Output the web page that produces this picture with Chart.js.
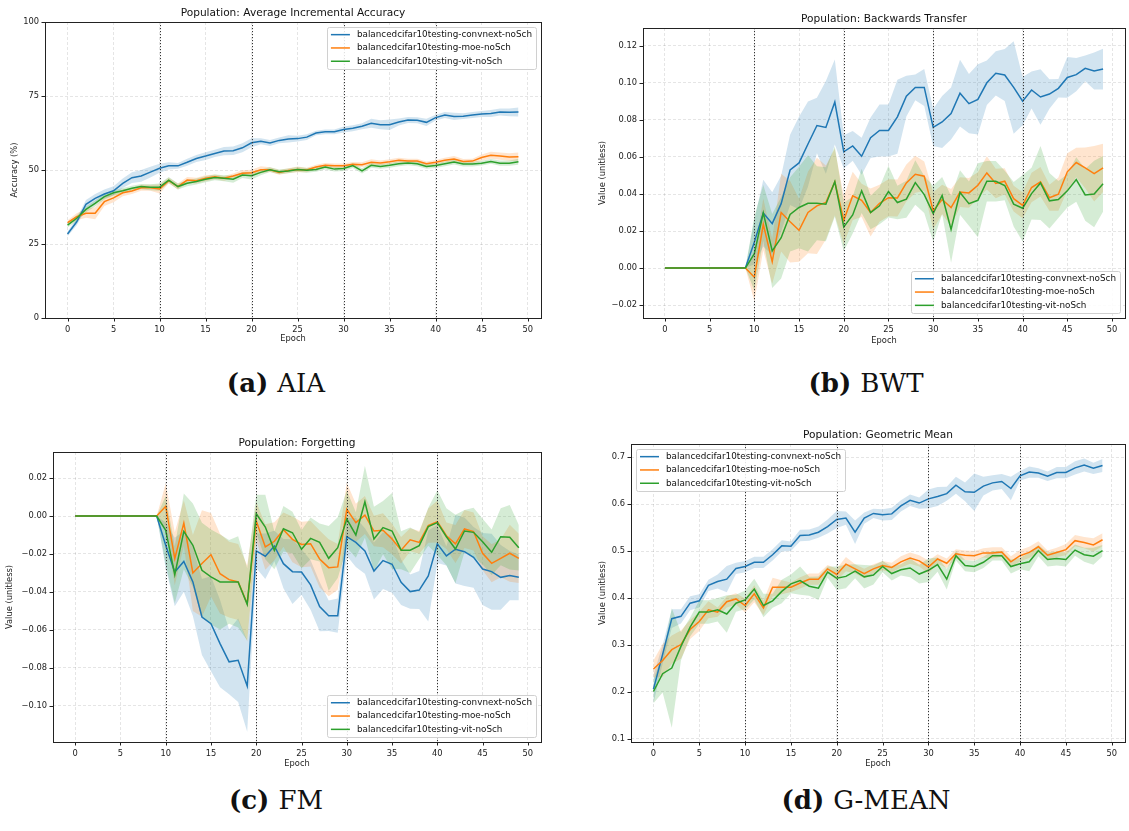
<!DOCTYPE html>
<html>
<head>
<meta charset="utf-8">
<script src="https://cdn.jsdelivr.net/npm/chart.js@4.4.1/dist/chart.umd.min.js"></script>
<style>
  body { margin: 0; background: #fff; width: 1129px; height: 831px; position: relative; overflow: hidden; }
  .panel { position: absolute; }
  .cap { position: absolute; width: 400px; text-align: center; font-family: "DejaVu Serif", serif; font-size: 26px; line-height: 32px; color: #111; }
  .cap b { margin-right: 9px; }
</style>
</head>
<body>
<div class="panel" style="left:0;top:0"><canvas id="aiaChart" width="565" height="360"></canvas></div>
<div class="panel" style="left:565px;top:0"><canvas id="bwtChart" width="564" height="360"></canvas></div>
<div class="panel" style="left:0;top:415px"><canvas id="fmChart" width="565" height="360"></canvas></div>
<div class="panel" style="left:565px;top:415px"><canvas id="gmChart" width="564" height="360"></canvas></div>
<div class="cap" style="left:76px;top:367px"><b>(a)</b>AIA</div>
<div class="cap" style="left:666px;top:367px"><b>(b)</b>BWT</div>
<div class="cap" style="left:76px;top:784px"><b>(c)</b>FM</div>
<div class="cap" style="left:666px;top:784px"><b>(d)</b>G-MEAN</div>
<script>
const seriesNames = ['balancedcifar10testing-convnext-noSch', 'balancedcifar10testing-moe-noSch', 'balancedcifar10testing-vit-noSch'];
const epochs = Array.from({length: 50}, (_, i) => i);
const xTicks = [0, 5, 10, 15, 20, 25, 30, 35, 40, 45, 50];
const taskBoundaries = [10, 20, 30, 40];

// (a) average incremental accuracy, %
const aiaTicks = [0, 25, 50, 75, 100];
const aiaConvnext = [28.4, 32.5, 38.4, 40.4, 41.9, 43.0, 45.5, 47.4, 48.0, 49.3, 50.6, 51.4, 51.4, 52.6, 53.9, 54.7, 55.6, 56.4, 56.5, 57.5, 59.2, 59.7, 59.1, 60.0, 60.5, 60.6, 61.1, 62.5, 62.9, 62.9, 63.7, 64.1, 64.8, 65.8, 65.3, 65.3, 66.2, 66.9, 66.8, 66.1, 67.7, 68.6, 68.1, 68.2, 68.6, 68.9, 69.1, 69.6, 69.5, 69.6];
const aiaConvnextStd = [0.8, 1.2, 1.5, 1.5, 1.5, 1.5, 1.6, 1.8, 2.0, 1.8, 1.5, 1.2, 1.0, 1.2, 1.2, 1.3, 1.2, 1.4, 1.4, 1.5, 1.5, 1.0, 1.0, 1.0, 1.2, 1.0, 1.0, 0.8, 0.8, 0.8, 1.0, 1.0, 1.0, 1.5, 1.5, 1.8, 1.2, 1.0, 1.0, 1.2, 1.0, 1.0, 1.2, 1.0, 1.0, 1.0, 1.2, 1.2, 1.3, 1.5];
const aiaMoe = [32.2, 34.2, 35.4, 35.4, 39.3, 40.6, 42.3, 42.9, 44.0, 44.0, 43.6, 46.4, 44.4, 46.6, 46.4, 47.2, 47.7, 47.2, 48.0, 48.9, 49.1, 50.1, 50.1, 49.2, 49.8, 50.2, 50.0, 51.0, 51.6, 51.4, 51.4, 51.9, 51.8, 52.6, 52.4, 52.8, 53.3, 53.0, 53.0, 52.1, 52.6, 53.3, 53.7, 52.9, 53.0, 54.2, 55.0, 54.7, 54.4, 54.5];
const aiaMoeStd = [0.8, 1.2, 1.5, 2.0, 1.5, 1.5, 1.2, 1.0, 1.0, 1.0, 1.5, 1.0, 1.0, 1.0, 1.0, 1.0, 0.8, 0.8, 0.8, 1.0, 1.0, 1.2, 0.8, 0.8, 0.8, 1.0, 0.8, 0.8, 0.8, 0.8, 0.8, 0.8, 0.8, 1.0, 0.8, 0.8, 0.8, 0.8, 0.8, 0.8, 0.8, 0.8, 1.0, 0.8, 0.8, 1.0, 1.2, 1.2, 1.3, 1.4];
const aiaVit = [31.4, 33.7, 36.7, 38.7, 41.0, 42.3, 43.0, 43.8, 44.4, 44.2, 44.2, 46.6, 44.4, 45.5, 46.1, 46.9, 47.5, 47.2, 46.9, 48.3, 48.1, 49.2, 50.1, 49.4, 49.7, 50.2, 49.9, 50.2, 51.0, 50.3, 50.5, 51.5, 49.7, 51.6, 51.2, 51.6, 52.1, 52.4, 52.1, 51.2, 51.5, 52.1, 52.7, 52.0, 52.0, 52.3, 52.9, 52.3, 52.3, 52.8];
const aiaVitStd = [0.8, 1.0, 1.0, 1.0, 1.0, 0.9, 0.9, 0.9, 0.9, 1.0, 1.2, 1.0, 1.0, 1.0, 1.0, 1.0, 1.0, 1.0, 1.2, 1.0, 1.3, 1.0, 0.8, 0.8, 0.8, 0.8, 0.8, 0.8, 0.8, 0.8, 0.8, 0.8, 0.9, 0.8, 0.8, 0.8, 0.8, 0.8, 0.8, 0.8, 0.8, 0.8, 0.8, 0.8, 0.8, 0.8, 0.8, 0.9, 0.9, 1.0];

// (b) backwards transfer
const bwtTicks = [-0.02, 0, 0.02, 0.04, 0.06, 0.08, 0.10, 0.12];
const bwtConvnext = [0, 0, 0, 0, 0, 0, 0, 0, 0, 0, 0.014, 0.0297, 0.024, 0.0348, 0.053, 0.0568, 0.067, 0.077, 0.076, 0.0897, 0.0628, 0.066, 0.0604, 0.0704, 0.0743, 0.0743, 0.0817, 0.0929, 0.0976, 0.0976, 0.076, 0.0789, 0.0835, 0.0945, 0.0888, 0.0911, 0.1001, 0.1052, 0.1043, 0.0976, 0.0902, 0.0962, 0.0924, 0.094, 0.0971, 0.103, 0.1045, 0.1079, 0.1065, 0.1075];
const bwtConvnextStd = [0, 0, 0, 0, 0, 0, 0, 0, 0, 0, 0.012, 0.018, 0.017, 0.015, 0.019, 0.025, 0.023, 0.015, 0.025, 0.023, 0.009, 0.008, 0.010, 0.011, 0.014, 0.014, 0.020, 0.011, 0.007, 0.010, 0.010, 0.014, 0.014, 0.018, 0.016, 0.019, 0.012, 0.012, 0.014, 0.025, 0.013, 0.010, 0.015, 0.008, 0.005, 0.011, 0.009, 0.007, 0.010, 0.011];
const bwtMoe = [0, 0, 0, 0, 0, 0, 0, 0, 0, 0, -0.005, 0.0236, 0.0035, 0.030, 0.025, 0.0204, 0.030, 0.0336, 0.0354, 0.0465, 0.0258, 0.039, 0.0366, 0.030, 0.035, 0.038, 0.0379, 0.046, 0.0507, 0.0496, 0.0309, 0.037, 0.0327, 0.041, 0.0406, 0.0447, 0.0514, 0.0457, 0.0469, 0.0375, 0.0339, 0.0435, 0.0466, 0.038, 0.0399, 0.052, 0.057, 0.0541, 0.051, 0.0541];
const bwtMoeStd = [0, 0, 0, 0, 0, 0, 0, 0, 0, 0, 0.013, 0.014, 0.012, 0.021, 0.022, 0.017, 0.022, 0.026, 0.020, 0.018, 0.013, 0.013, 0.009, 0.013, 0.010, 0.010, 0.010, 0.010, 0.010, 0.008, 0.010, 0.008, 0.010, 0.008, 0.008, 0.007, 0.009, 0.008, 0.007, 0.007, 0.007, 0.008, 0.008, 0.007, 0.009, 0.010, 0.008, 0.011, 0.015, 0.013];
const bwtVit = [0, 0, 0, 0, 0, 0, 0, 0, 0, 0, 0.0078, 0.0298, 0.0092, 0.0164, 0.029, 0.0327, 0.035, 0.035, 0.0345, 0.0467, 0.0222, 0.0287, 0.0417, 0.030, 0.0336, 0.0413, 0.0354, 0.0372, 0.0462, 0.0397, 0.0294, 0.0392, 0.0209, 0.0408, 0.0348, 0.0366, 0.0469, 0.0469, 0.0446, 0.0345, 0.0323, 0.0402, 0.046, 0.0363, 0.037, 0.0417, 0.0478, 0.0395, 0.040, 0.0455];
const bwtVitStd = [0, 0, 0, 0, 0, 0, 0, 0, 0, 0, 0.020, 0.015, 0.020, 0.022, 0.020, 0.022, 0.026, 0.020, 0.020, 0.019, 0.013, 0.010, 0.012, 0.009, 0.010, 0.014, 0.009, 0.010, 0.012, 0.010, 0.015, 0.010, 0.018, 0.012, 0.012, 0.020, 0.011, 0.011, 0.008, 0.012, 0.018, 0.014, 0.020, 0.015, 0.010, 0.009, 0.012, 0.014, 0.018, 0.015];

// (c) forgetting
const fmTicks = [-0.10, -0.08, -0.06, -0.04, -0.02, 0, 0.02];
const fmConvnext = [0, 0, 0, 0, 0, 0, 0, 0, 0, 0, -0.0154, -0.0295, -0.0239, -0.0347, -0.0532, -0.0567, -0.0672, -0.0768, -0.076, -0.0896, -0.0184, -0.0212, -0.0158, -0.0251, -0.0293, -0.0295, -0.0363, -0.0477, -0.0525, -0.0525, -0.0109, -0.0139, -0.0184, -0.029, -0.0235, -0.0254, -0.0349, -0.0398, -0.039, -0.0316, -0.0147, -0.021, -0.0175, -0.0188, -0.0218, -0.0279, -0.0293, -0.0323, -0.0314, -0.0323];
const fmConvnextStd = [0, 0, 0, 0, 0, 0, 0, 0, 0, 0, 0.012, 0.018, 0.016, 0.018, 0.020, 0.025, 0.023, 0.017, 0.022, 0.024, 0.009, 0.012, 0.008, 0.013, 0.017, 0.012, 0.013, 0.013, 0.008, 0.009, 0.010, 0.013, 0.012, 0.015, 0.015, 0.015, 0.012, 0.009, 0.010, 0.024, 0.010, 0.005, 0.018, 0.018, 0.016, 0.019, 0.020, 0.017, 0.013, 0.012];
const fmMoe = [0, 0, 0, 0, 0, 0, 0, 0, 0, 0, 0.0051, -0.0225, -0.0037, -0.030, -0.025, -0.0204, -0.0304, -0.0335, -0.0347, -0.0461, -0.0026, -0.0163, -0.0133, -0.0072, -0.0123, -0.015, -0.0146, -0.0226, -0.0272, -0.0268, 0.0035, -0.0035, 0.0005, -0.0079, -0.0075, -0.0121, -0.018, -0.0125, -0.0139, -0.0051, -0.003, -0.0104, -0.0147, -0.0068, -0.0082, -0.0196, -0.0249, -0.0223, -0.0196, -0.0223];
const fmMoeStd = [0, 0, 0, 0, 0, 0, 0, 0, 0, 0, 0.012, 0.014, 0.012, 0.020, 0.028, 0.022, 0.021, 0.020, 0.020, 0.020, 0.010, 0.012, 0.010, 0.009, 0.012, 0.012, 0.012, 0.015, 0.015, 0.012, 0.014, 0.010, 0.010, 0.008, 0.009, 0.008, 0.007, 0.006, 0.006, 0.009, 0.011, 0.007, 0.010, 0.010, 0.010, 0.009, 0.010, 0.010, 0.015, 0.013];
const fmVit = [0, 0, 0, 0, 0, 0, 0, 0, 0, 0, -0.0075, -0.0309, -0.0081, -0.0154, -0.0286, -0.0321, -0.0347, -0.0347, -0.0347, -0.0465, 0.0012, -0.0058, -0.0181, -0.0067, -0.0088, -0.0175, -0.0118, -0.0139, -0.0223, -0.0167, -0.0016, -0.010, 0.0075, -0.0121, -0.0061, -0.0079, -0.018, -0.018, -0.0156, -0.0056, -0.0035, -0.0109, -0.0174, -0.0079, -0.0086, -0.0135, -0.0191, -0.0109, -0.0112, -0.0167];
const fmVitStd = [0, 0, 0, 0, 0, 0, 0, 0, 0, 0, 0.018, 0.015, 0.020, 0.022, 0.025, 0.025, 0.025, 0.022, 0.024, 0.019, 0.010, 0.017, 0.010, 0.012, 0.011, 0.010, 0.011, 0.010, 0.017, 0.016, 0.015, 0.012, 0.019, 0.017, 0.014, 0.020, 0.010, 0.012, 0.007, 0.010, 0.017, 0.015, 0.018, 0.011, 0.013, 0.012, 0.012, 0.015, 0.017, 0.012];

// (d) geometric mean
const gmTicks = [0.1, 0.2, 0.3, 0.4, 0.5, 0.6, 0.7];
const gmConvnext = [0.206, 0.280, 0.356, 0.361, 0.389, 0.394, 0.427, 0.435, 0.440, 0.463, 0.467, 0.476, 0.476, 0.492, 0.511, 0.510, 0.533, 0.534, 0.540, 0.552, 0.567, 0.570, 0.540, 0.570, 0.580, 0.577, 0.579, 0.596, 0.608, 0.602, 0.611, 0.616, 0.622, 0.640, 0.626, 0.625, 0.638, 0.645, 0.648, 0.633, 0.660, 0.668, 0.666, 0.659, 0.667, 0.667, 0.677, 0.683, 0.676, 0.682];
const gmConvnextStd = [0.030, 0.020, 0.020, 0.015, 0.015, 0.014, 0.012, 0.015, 0.028, 0.012, 0.012, 0.012, 0.012, 0.012, 0.012, 0.010, 0.012, 0.012, 0.012, 0.015, 0.018, 0.014, 0.025, 0.012, 0.010, 0.012, 0.013, 0.012, 0.012, 0.012, 0.020, 0.020, 0.015, 0.018, 0.020, 0.040, 0.020, 0.016, 0.016, 0.025, 0.010, 0.012, 0.010, 0.010, 0.012, 0.012, 0.014, 0.014, 0.012, 0.014];
const gmMoe = [0.249, 0.267, 0.290, 0.301, 0.333, 0.350, 0.375, 0.370, 0.392, 0.398, 0.384, 0.409, 0.379, 0.423, 0.423, 0.423, 0.432, 0.440, 0.440, 0.462, 0.450, 0.472, 0.462, 0.452, 0.462, 0.469, 0.465, 0.477, 0.485, 0.479, 0.466, 0.483, 0.474, 0.494, 0.491, 0.490, 0.496, 0.496, 0.498, 0.477, 0.490, 0.497, 0.509, 0.491, 0.497, 0.503, 0.522, 0.518, 0.513, 0.524];
const gmMoeStd = [0.018, 0.035, 0.030, 0.030, 0.020, 0.020, 0.018, 0.010, 0.012, 0.012, 0.015, 0.018, 0.015, 0.020, 0.015, 0.010, 0.012, 0.012, 0.012, 0.008, 0.012, 0.015, 0.010, 0.010, 0.010, 0.010, 0.010, 0.012, 0.012, 0.012, 0.014, 0.010, 0.010, 0.010, 0.010, 0.010, 0.010, 0.012, 0.010, 0.012, 0.012, 0.012, 0.012, 0.010, 0.010, 0.012, 0.012, 0.012, 0.014, 0.014];
const gmVit = [0.201, 0.239, 0.251, 0.297, 0.338, 0.370, 0.370, 0.375, 0.366, 0.389, 0.396, 0.419, 0.384, 0.394, 0.414, 0.430, 0.437, 0.425, 0.421, 0.455, 0.442, 0.446, 0.457, 0.445, 0.449, 0.467, 0.452, 0.460, 0.464, 0.451, 0.459, 0.471, 0.440, 0.490, 0.469, 0.467, 0.476, 0.490, 0.490, 0.467, 0.473, 0.477, 0.501, 0.482, 0.484, 0.482, 0.502, 0.492, 0.489, 0.501];
const gmVitStd = [0.025, 0.040, 0.127, 0.030, 0.020, 0.025, 0.025, 0.025, 0.040, 0.018, 0.020, 0.022, 0.025, 0.015, 0.025, 0.020, 0.030, 0.020, 0.025, 0.012, 0.025, 0.025, 0.015, 0.025, 0.020, 0.012, 0.015, 0.012, 0.020, 0.020, 0.025, 0.015, 0.022, 0.010, 0.012, 0.012, 0.012, 0.010, 0.010, 0.015, 0.012, 0.020, 0.012, 0.015, 0.015, 0.015, 0.012, 0.015, 0.018, 0.012];

const lineColors = ['#1f77b4', '#ff7f0e', '#2ca02c'];
const bandColors = ['rgba(31,119,180,0.2)', 'rgba(255,127,14,0.2)', 'rgba(44,160,44,0.2)'];
const FAMILY = '"DejaVu Sans", sans-serif';
const SMALL = 8.3;
const LEGEND = 8.8;
const GRID = 'rgba(0,0,0,0.1)';

function pts(vals) {
    return epochs.map((e, i) => ({ x: e, y: vals[i] }));
}

function buildDatasets(means, stds) {
    const sets = [];
    means.forEach((m, k) => {
        const s = stds[k];
        sets.push({ data: pts(m.map((v, i) => v + s[i])), fill: '+1', backgroundColor: bandColors[k],
            borderColor: 'transparent', borderWidth: 0, pointRadius: 0, order: 12 - k });
        sets.push({ data: pts(m.map((v, i) => v - s[i])), fill: false,
            borderColor: 'transparent', borderWidth: 0, pointRadius: 0, order: 12 - k });
    });
    means.forEach((m, k) => {
        sets.push({ label: seriesNames[k], data: pts(m), borderColor: lineColors[k], borderWidth: 1.5,
            pointRadius: 0, fill: false, order: 3 - k });
    });
    return sets;
}

const decor = {
    id: 'decor',
    afterDatasetsDraw(chart) {
        const { ctx, chartArea: a, scales: { x } } = chart;
        ctx.save();
        ctx.strokeStyle = '#333';
        ctx.lineWidth = 1;
        ctx.setLineDash([1.2, 1.8]);
        taskBoundaries.forEach(b => {
            const px = Math.round(x.getPixelForValue(b)) + 0.5;
            ctx.beginPath();
            ctx.moveTo(px, a.top);
            ctx.lineTo(px, a.bottom);
            ctx.stroke();
        });
        ctx.restore();
    },
    afterDraw(chart, args, opts) {
        const { ctx, chartArea: a, scales: { x, y } } = chart;
        ctx.save();
        // spines and tick marks
        ctx.strokeStyle = '#222';
        ctx.lineWidth = 1;
        ctx.strokeRect(Math.round(a.left) + 0.5, Math.round(a.top) + 0.5, Math.round(a.width), Math.round(a.height));
        ctx.beginPath();
        x.ticks.forEach(t => {
            const px = Math.round(x.getPixelForValue(t.value)) + 0.5;
            ctx.moveTo(px, a.bottom);
            ctx.lineTo(px, a.bottom + 3.5);
        });
        y.ticks.forEach(t => {
            const py = Math.round(y.getPixelForValue(t.value)) + 0.5;
            ctx.moveTo(a.left, py);
            ctx.lineTo(a.left - 3.5, py);
        });
        ctx.stroke();

        // title
        ctx.fillStyle = '#111';
        ctx.font = '10.6px ' + FAMILY;
        ctx.textAlign = 'center';
        ctx.textBaseline = 'middle';
        ctx.fillText(opts.title, (a.left + a.right) / 2, a.top - 8.5);

        // legend
        const items = chart.data.datasets.filter(d => d.label);
        ctx.font = LEGEND + 'px ' + FAMILY;
        const tw = Math.max(...items.map(d => ctx.measureText(d.label).width));
        const rowH = 13.3;
        const w = 4 + 19 + 7 + tw + 4;
        const h = rowH * items.length + 2;
        const lx = opts.legend.includes('right') ? a.right - 5 - w : a.left + 5;
        const ly = opts.legend.includes('top') ? a.top + 5 : a.bottom - 5 - h;
        ctx.fillStyle = 'rgba(255,255,255,0.85)';
        ctx.strokeStyle = '#d0d0d0';
        ctx.beginPath();
        ctx.roundRect(Math.round(lx) + 0.5, Math.round(ly) + 0.5, Math.round(w), Math.round(h), 2);
        ctx.fill();
        ctx.stroke();
        ctx.textAlign = 'left';
        items.forEach((d, i) => {
            const cy = ly + 1 + rowH * (i + 0.5);
            ctx.strokeStyle = d.borderColor;
            ctx.lineWidth = 1.5;
            ctx.beginPath();
            ctx.moveTo(lx + 4, cy);
            ctx.lineTo(lx + 23, cy);
            ctx.stroke();
            ctx.fillStyle = '#111';
            ctx.fillText(d.label, lx + 30, cy);
        });
        ctx.restore();
    }
};

function makeChart(id, spec) {
    const font = { family: FAMILY, size: SMALL };
    return new Chart(document.getElementById(id), {
        type: 'line',
        data: { datasets: buildDatasets(spec.means, spec.stds) },
        plugins: [decor],
        options: {
            responsive: false,
            animation: false,
            devicePixelRatio: 1,
            layout: { padding: { top: spec.padTop, right: spec.padRight, left: 0, bottom: 0 } },
            plugins: {
                legend: { display: false },
                tooltip: { enabled: false },
                decor: { title: spec.title, legend: spec.legend }
            },
            scales: {
                x: {
                    type: 'linear', min: -2.45, max: 51.45,
                    afterBuildTicks: s => { s.ticks = xTicks.map(v => ({ value: v })); },
                    afterFit: s => { s.height = spec.xH; },
                    grid: { color: GRID, drawTicks: false },
                    border: { display: false, dash: [3, 2] },
                    ticks: { padding: 7, color: '#222', font, autoSkip: false, maxRotation: 0, callback: v => String(v) },
                    title: { display: true, text: 'Epoch', color: '#222', font, padding: { top: 0, bottom: spec.xTitlePad } }
                },
                y: {
                    type: 'linear', min: spec.yMin, max: spec.yMax,
                    afterBuildTicks: s => { s.ticks = spec.yTicks.map(v => ({ value: v })); },
                    afterFit: s => { s.width = spec.yW; },
                    grid: { color: GRID, drawTicks: false },
                    border: { display: false, dash: [3, 2] },
                    ticks: { padding: 6, color: '#222', font, autoSkip: false, callback: spec.fmt },
                    title: { display: true, text: spec.yLabel, color: '#222', font, padding: { top: spec.yTitlePad, bottom: 0 } }
                }
            }
        }
    });
}

const signed = d => v => (v < -1e-9 ? '\u2212' : '') + Math.abs(v).toFixed(d);

makeChart('aiaChart', {
    title: 'Population: Average Incremental Accuracy', legend: 'top-right', yLabel: 'Accuracy (%)',
    means: [aiaConvnext, aiaMoe, aiaVit], stds: [aiaConvnextStd, aiaMoeStd, aiaVitStd],
    yMin: 0, yMax: 100, yTicks: aiaTicks, fmt: v => String(v),
    padTop: 22, padRight: 24, yW: 45, xH: 42, xTitlePad: 16, yTitlePad: 10
});
makeChart('bwtChart', {
    title: 'Population: Backwards Transfer', legend: 'bottom-right', yLabel: 'Value (unitless)',
    means: [bwtConvnext, bwtMoe, bwtVit], stds: [bwtConvnextStd, bwtMoeStd, bwtVitStd],
    yMin: -0.027, yMax: 0.1297, yTicks: bwtTicks, fmt: signed(2),
    padTop: 28, padRight: 4, yW: 78, xH: 42, xTitlePad: 14, yTitlePad: 33
});
makeChart('fmChart', {
    title: 'Population: Forgetting', legend: 'bottom-right', yLabel: 'Value (unitless)',
    means: [fmConvnext, fmMoe, fmVit], stds: [fmConvnextStd, fmMoeStd, fmVitStd],
    yMin: -0.119, yMax: 0.0337, yTicks: fmTicks, fmt: signed(2),
    padTop: 37, padRight: 24, yW: 53, xH: 33, xTitlePad: 6, yTitlePad: 5
});
makeChart('gmChart', {
    title: 'Population: Geometric Mean', legend: 'top-left', yLabel: 'Value (unitless)',
    means: [gmConvnext, gmMoe, gmVit], stds: [gmConvnextStd, gmMoeStd, gmVitStd],
    yMin: 0.0936, yMax: 0.7277, yTicks: gmTicks, fmt: signed(1),
    padTop: 29, padRight: 4, yW: 66, xH: 33, xTitlePad: 6, yTitlePad: 33
});
</script>
</body>
</html>
